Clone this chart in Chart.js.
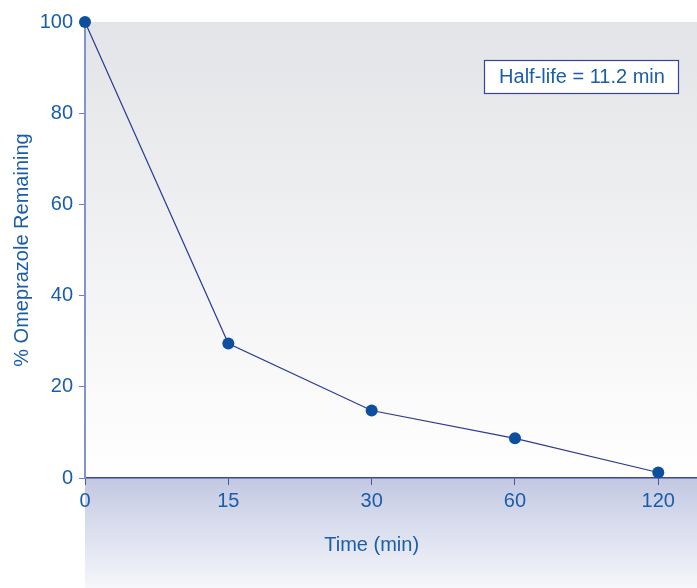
<!DOCTYPE html>
<html lang="en">
<head>
  <meta charset="UTF-8">
  <title>Omeprazole Remaining</title>
  <script src="https://cdn.jsdelivr.net/npm/chart.js"></script>
  <style>
    html, body { margin: 0; padding: 0; background: #fff; }
    #wrap { width: 697px; height: 588px; position: relative; }
  </style>
</head>
<body>
  <div id="wrap">
    <canvas id="decayChart" width="697" height="588"></canvas>
  </div>

  <script>
    // data
    const timeLabels = ["0", "15", "30", "60", "120"];
    const pctRemaining = [100, 29.5, 14.8, 8.7, 1.2];
    const yTicks = [0, 20, 40, 60, 80, 100];
    const halfLifeText = "Half-life = 11.2 min";

    const blueText = "#1a5ea9";
    const fontFamily = "'Liberation Sans', Arial, Helvetica, sans-serif";
    const fontSize = 20;

    // backgrounds, x title and the half-life box
    const decor = {
      id: "decor",
      beforeDraw(chart) {
        const { ctx, chartArea: a, width, height } = chart;
        ctx.save();
        let g = ctx.createLinearGradient(0, a.top, 0, a.bottom);
        g.addColorStop(0, "#e3e4e7");
        g.addColorStop(1, "#ffffff");
        ctx.fillStyle = g;
        ctx.fillRect(a.left, a.top, width - a.left, a.bottom - a.top);

        g = ctx.createLinearGradient(0, a.bottom, 0, height);
        g.addColorStop(0, "#c2c8e2");
        g.addColorStop(1, "#f6f7fb");
        ctx.fillStyle = g;
        ctx.fillRect(a.left, a.bottom, width - a.left, height - a.bottom);
        ctx.restore();
      },
      afterDraw(chart) {
        const { ctx } = chart;
        const x = chart.scales.x;
        ctx.save();
        ctx.font = fontSize + "px " + fontFamily;
        ctx.fillStyle = blueText;
        ctx.textAlign = "center";
        ctx.textBaseline = "middle";
        ctx.fillText("Time (min)", (x.getPixelForValue(0) + x.getPixelForValue(4)) / 2, 545);

        // half-life box
        const bx = 484, by = 60, bw = 194, bh = 33;
        ctx.fillStyle = "#ffffff";
        ctx.fillRect(bx, by, bw, bh);
        ctx.strokeStyle = "#33449a";
        ctx.lineWidth = 1.2;
        ctx.strokeRect(bx + 0.5, by + 0.5, bw, bh);
        ctx.fillStyle = blueText;
        ctx.fillText(halfLifeText, bx + bw / 2 + 1, by + bh / 2 + 1);
        ctx.restore();
      }
    };

    new Chart(document.getElementById("decayChart"), {
      type: "line",
      data: {
        datasets: [{
          data: pctRemaining.map((v, i) => ({ x: i, y: v })),
          borderColor: "#2b3a92",
          borderWidth: 1.2,
          backgroundColor: "#0b4f9e",
          pointBackgroundColor: "#0b4f9e",
          pointBorderWidth: 0,
          pointRadius: 6,
          tension: 0,
          clip: false
        }]
      },
      options: {
        responsive: false,
        animation: false,
        layout: { autoPadding: false, padding: { top: 22, right: 0, left: 0, bottom: 0 } },
        plugins: {
          legend: { display: false },
          tooltip: { enabled: false }
        },
        scales: {
          x: {
            type: "linear",
            min: 0,
            max: 4.27,
            afterBuildTicks: s => { s.ticks = timeLabels.map((_, i) => ({ value: i })); },
            afterFit: s => { s.height = 110; s.paddingLeft = 0; s.paddingRight = 0; },
            ticks: {
              color: blueText,
              font: { family: fontFamily, size: fontSize },
              padding: 4,
              maxRotation: 0,
              callback: v => timeLabels[v]
            },
            grid: {
              drawOnChartArea: false,
              drawTicks: true,
              tickLength: 7,
              color: "#4a58a0"
            },
            border: { color: "#3d4a8f", width: 1.5 }
          },
          y: {
            min: 0,
            max: 100,
            afterBuildTicks: s => { s.ticks = yTicks.map(v => ({ value: v })); },
            afterFit: s => { s.width = 85; s.paddingTop = 0; s.paddingBottom = 0; },
            ticks: {
              color: blueText,
              font: { family: fontFamily, size: fontSize },
              padding: 6
            },
            grid: {
              drawOnChartArea: false,
              tickLength: 6,
              color: "#6f7fbd"
            },
            border: { color: "#8393cc", width: 2 },
            title: {
              display: true,
              text: "% Omeprazole Remaining",
              color: blueText,
              font: { family: fontFamily, size: fontSize },
              padding: { top: 10, bottom: 0 }
            }
          }
        }
      },
      plugins: [decor]
    });
  </script>
</body>
</html>
